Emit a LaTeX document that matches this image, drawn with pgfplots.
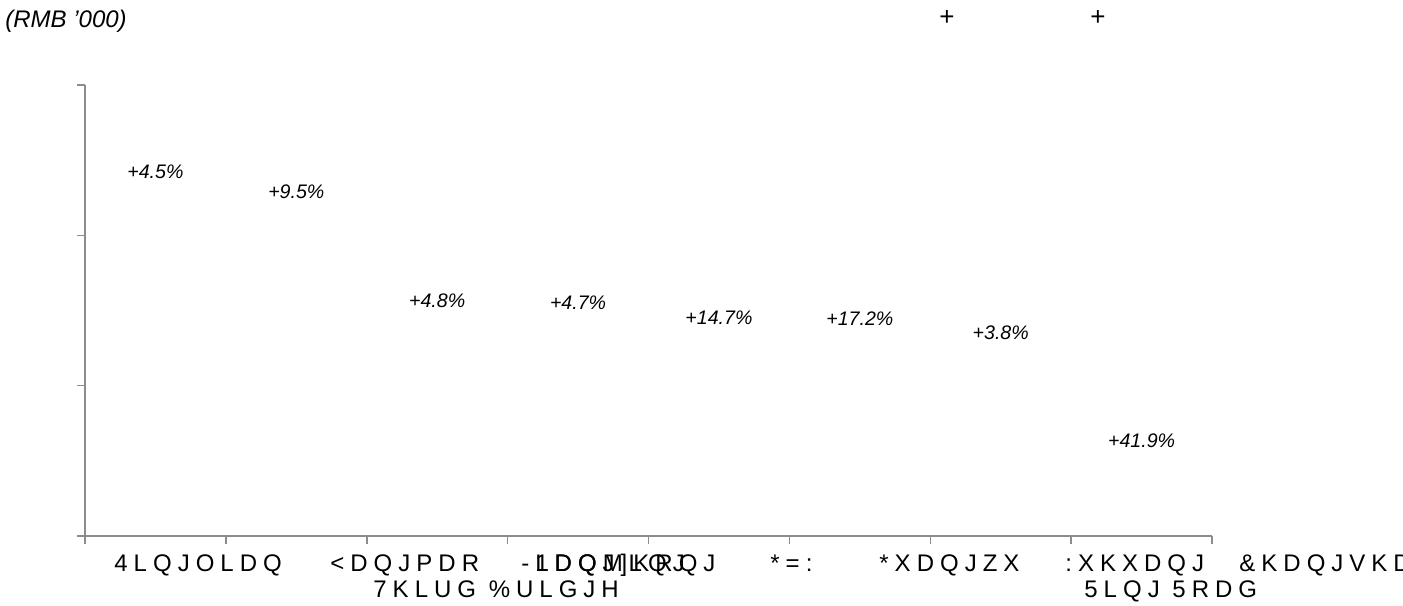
\documentclass[border=0pt]{standalone}
\usepackage{fontspec}
\setmainfont{Liberation Sans}
\usepackage{pgfplots}
\pgfplotsset{compat=1.18}

\definecolor{axisgray}{HTML}{8C8C8C}
% garbled category labels are set wide, as in the original
\newcommand\lab{\fontsize{12bp}{14bp}\selectfont\addfontfeatures{LetterSpace=25}}
\newcommand\pct{\fontsize{9.8bp}{11bp}\selectfont\itshape}

\begin{document}
\begin{tikzpicture}[x=0.5bp,y=0.5bp]
\useasboundingbox (0,0) rectangle (1403,606);

\begin{axis}[
    at={(42.5bp,35bp)}, anchor=south west,
    width=563.5bp, height=225.5bp,
    scale only axis,
    xmin=-0.5, xmax=7.5,
    ymin=0, ymax=1500,
    axis lines=left,
    axis line style={-, axisgray, line width=0.75bp},
    xtick={-0.5,0.5,...,7.5},
    ytick={0,500,1000,1500},
    xticklabels={}, yticklabels={},
    tick align=outside,
    major tick length=4bp,
    tick style={axisgray, line width=0.75bp},
    clip=false,
]
% bars are not drawn in the original, only their growth labels
\addplot[ybar, bar width=50bp, draw=none, fill=none,
    nodes near coords, point meta=explicit symbolic,
    every node near coord/.style={font=\pct, anchor=center, yshift=6.5bp, inner sep=0pt}]
coordinates {
(0,1167)[+4.5\%] (1,1101)[+9.5\%] (2,738)[+4.8\%] (3,732)[+4.7\%]
(4,682)[+14.7\%] (5,679)[+17.2\%] (6,632)[+3.8\%] (7,273)[+41.9\%]
};
\end{axis}

% ================== category labels ==================
\begin{scope}[every node/.style={anchor=base west, inner sep=0pt, font=\lab}]
\node at (114,34) {4LQJOLDQ};
\node at (330,34) {<DQJPDR};
\node at (373,8) {7KLUG \%ULGJH};
\node at (521,34) {-LDQJ]KRQJ};
\node at (535,34) {1DQMLQJ};
\node at (770,34) {*=:};
\node at (879,34) {*XDQJZX};
\node at (1065,34) {:XKXDQJ};
\node at (1084,8) {5LQJ 5RDG};
\node at (1239,34) {\&KDQJVKD};
\end{scope}

% ================== header ==================
\node[anchor=base west, inner sep=0pt, font=\fontsize{12bp}{14bp}\selectfont\itshape] at (5,578) {(RMB ’000)};
\node[inner sep=0pt, font=\fontsize{13bp}{15bp}\selectfont] at (947,588) {+};
\node[inner sep=0pt, font=\fontsize{13bp}{15bp}\selectfont] at (1098,588) {+};
\end{tikzpicture}
\end{document}
